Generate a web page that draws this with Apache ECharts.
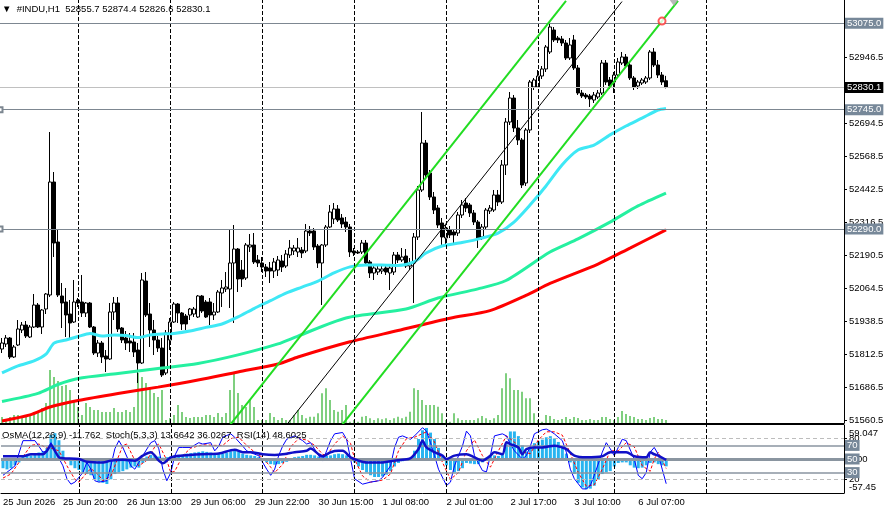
<!DOCTYPE html>
<html><head><meta charset="utf-8">
<script src="https://cdn.jsdelivr.net/npm/echarts@6/dist/echarts.min.js"></script>
<style>html,body{margin:0;padding:0;background:#fff}#c{width:888px;height:512px}</style>
</head><body><div id="c"></div><script>
// ---------- DATA ----------
const sessions = [['25 Jun',4,22],['26 Jun',0,22],['29 Jun',0,22],['30 Jun',0,22],['1 Jul',0,22],['2 Jul',0,22],['3 Jul',0,18],['6 Jul',0,13]];
const futureBars = 44;
const firstLabel = '25 Jun 2026';
const labelIdx = [16,32,48,64,80,96,112,128,144,160];
const daySeparators = [19,42,65,88,111,134,153,176];
const yTicks = [51560.5,51686.5,51812.5,51938.5,52064.5,52190.5,52316.5,52442.5,52568.5,52694.5,52820.5,52946.5,53072.5];
const priceLevels = [53075.0, 52745.0, 52290.0];
const bidPrice = 52830.1;
const rsiLevels = [80,70,50,30,20];
const rsiTickLabels = [80,20];
const osmaLabelVals = [45.3, 0, -47.2];
const osmaLabelText = ['59.047','0.00','-57.45'];
const header = '\u25BC  #INDU,H1  52855.7 52874.4 52826.6 52830.1';
const indHeader = 'OsMA(12,26,9) -11.762  Stoch(5,3,3) 13.6642 36.0267  RSI(14) 48.6025';

const opens = [51831.5,51850.6,51873.5,51801.0,51846.8,51904.1,51923.1,51877.3,51915.5,51999.5,
 51915.5,51984.2,52037.7,52469.1,52240.0,52033.9,52011.0,51965.1,51934.6,52018.6,
 52011.0,51969.0,52007.1,51915.5,51816.2,51854.4,51804.8,51793.3,51972.8,52007.1,
 51911.7,51873.5,51862.1,51858.2,51827.7,51778.1,52091.1,51965.1,51904.1,51865.9,
 51835.3,51739.9,51865.9,51934.6,52003.3,51969.0,51957.5,51961.3,51965.1,51953.7,
 52033.9,52011.0,52011.0,51961.3,51972.8,52045.3,52060.6,52060.6,52159.9,52213.3,
 52133.1,52102.6,52221.0,52228.6,52171.3,52159.9,52144.6,52140.8,52129.3,52133.1,
 52167.5,52148.4,52190.4,52205.7,52201.9,52209.5,52205.7,52282.0,52282.0,52224.8,
 52159.9,52228.6,52297.3,52327.9,52366.0,52331.7,52316.4,52297.3,52205.7,52201.9,
 52201.9,52236.2,52163.7,52121.7,52125.5,52129.3,52140.8,52121.7,52125.5,52190.4,
 52171.3,52186.6,52148.4,52159.9,52259.1,52438.6,52618.0,52503.5,52411.9,52369.9,
 52312.6,52255.3,52285.9,52278.2,52274.4,52343.1,52388.9,52381.3,52350.8,52316.4,
 52259.1,52297.3,52358.4,52362.2,52419.5,52392.8,52534.0,52698.2,52789.8,52675.3,
 52629.5,52465.3,52667.7,52831.8,52831.8,52873.8,52900.6,52965.5,53049.5,53018.9,
 53015.1,52999.8,52942.6,53011.3,52904.4,52808.9,52801.3,52797.5,52782.2,52793.7,
 52808.9,52923.5,52858.6,52850.9,52877.6,52923.5,52946.4,52915.8,52866.2,52835.7,
 52847.1,52850.9,52866.2,52965.5,52915.8,52877.6,52855.7];
const highs = [51873.5,51885.0,51877.3,51846.8,51942.2,51934.6,51938.4,51923.1,52041.5,52007.1,
 51984.2,52045.3,52660.0,52507.3,52285.9,52083.5,52064.4,52018.6,52095.0,52026.2,
 52114.1,52011.0,52011.0,51919.3,51865.9,51862.1,51827.7,52007.1,52030.0,52030.0,
 51915.5,51900.2,51892.6,51892.6,51854.4,52121.7,52125.5,52007.1,51942.2,51881.2,
 51873.5,51904.1,51949.9,52011.0,52007.1,51972.8,51965.1,51988.1,51991.9,52037.7,
 52037.7,52018.6,52026.2,52007.1,52056.8,52095.0,52125.5,52285.9,52304.9,52217.1,
 52171.3,52236.2,52270.6,52274.4,52190.4,52182.8,52156.0,52163.7,52179.0,52186.6,
 52190.4,52209.5,52247.7,52228.6,52255.3,52221.0,52308.8,52301.1,52293.5,52232.4,
 52232.4,52304.9,52381.3,52388.9,52381.3,52346.9,52335.5,52308.8,52217.1,52209.5,
 52247.7,52247.7,52171.3,52152.2,52148.4,52148.4,52152.2,52152.2,52201.9,52201.9,
 52217.1,52213.3,52179.0,52274.4,52453.9,52736.4,52629.5,52514.9,52430.9,52381.3,
 52331.7,52304.9,52301.1,52289.7,52354.6,52400.4,52408.0,52388.9,52362.2,52324.0,
 52308.8,52369.9,52381.3,52438.6,52438.6,52553.1,52713.5,52812.7,52801.3,52705.8,
 52637.1,52675.3,52858.6,52866.2,52896.7,52912.0,52992.2,53080.0,53060.9,53026.6,
 53026.6,53011.3,53018.9,53030.4,52915.8,52820.4,52808.9,52805.1,52812.7,52820.4,
 52934.9,52934.9,52870.0,52889.1,52942.6,52965.5,52957.8,52923.5,52873.8,52858.6,
 52866.2,52873.8,52973.1,52980.7,52934.9,52889.1,52874.4];
const lows = [51816.2,51839.2,51793.3,51797.2,51843.0,51892.6,51873.5,51873.5,51911.7,51911.7,
 51888.8,51965.1,52030.0,52182.8,52030.0,51911.7,51877.3,51873.5,51930.8,51991.9,
 51953.7,51953.7,51911.7,51808.6,51801.0,51778.1,51743.7,51789.5,51942.2,51896.4,
 51854.4,51827.7,51820.1,51801.0,51701.7,51774.2,51953.7,51839.2,51808.6,51820.1,
 51724.6,51732.2,51827.7,51930.8,51930.8,51904.1,51904.1,51942.2,51953.7,51949.9,
 51969.0,51949.9,51923.1,51942.2,51969.0,51991.9,52049.1,51988.1,51930.8,52049.1,
 52068.2,52095.0,52201.9,52156.0,52144.6,52125.5,52106.4,52083.5,52102.6,52110.2,
 52125.5,52140.8,52179.0,52190.4,52182.8,52179.0,52198.1,52263.0,52209.5,52140.8,
 51999.5,52221.0,52293.5,52308.8,52316.4,52293.5,52278.2,52182.8,52186.6,52194.2,
 52194.2,52152.2,52102.6,52095.0,52114.1,52117.9,52114.1,52056.8,52114.1,52159.9,
 52163.7,52140.8,52133.1,52007.1,52247.7,52430.9,52484.4,52400.4,52346.9,52293.5,
 52228.6,52228.6,52255.3,52232.4,52263.0,52331.7,52354.6,52335.5,52304.9,52217.1,
 52247.7,52289.7,52346.9,52354.6,52377.5,52385.1,52495.8,52686.7,52660.0,52610.4,
 52446.2,52453.9,52656.2,52820.4,52828.0,52862.4,52889.1,52957.8,53003.6,52999.8,
 52988.4,52934.9,52934.9,52896.7,52801.3,52789.8,52786.0,52755.5,52770.7,52786.0,
 52801.3,52839.5,52824.2,52808.9,52870.0,52915.8,52904.4,52858.6,52820.4,52824.2,
 52839.5,52843.3,52858.6,52908.2,52866.2,52839.5,52826.6];
const closes = [51854.4,51873.5,51801.0,51839.2,51907.9,51923.1,51881.2,51915.5,51999.5,51915.5,
 51980.4,52041.5,52469.1,52236.2,52037.7,52007.1,51961.3,51930.8,52011.0,52007.1,
 51969.0,52007.1,51915.5,51816.2,51854.4,51801.0,51793.3,51972.8,52007.1,51907.9,
 51865.9,51854.4,51854.4,51820.1,51778.1,52095.0,51961.3,51904.1,51865.9,51835.3,
 51732.2,51892.6,51934.6,52003.3,51969.0,51927.0,51927.0,51984.2,51984.2,52033.9,
 51976.6,51953.7,51961.3,51972.8,52049.1,52064.4,52068.2,52159.9,52213.3,52098.8,
 52098.8,52228.6,52228.6,52163.7,52159.9,52144.6,52129.3,52129.3,52163.7,52171.3,
 52144.6,52194.2,52217.1,52217.1,52217.1,52198.1,52282.0,52274.4,52221.0,52159.9,
 52228.6,52297.3,52354.6,52366.0,52324.0,52308.8,52297.3,52201.9,52198.1,52198.1,
 52236.2,52159.9,52121.7,52140.8,52137.0,52137.0,52125.5,52140.8,52190.4,52171.3,
 52182.8,52148.4,52159.9,52259.1,52438.6,52618.0,52495.8,52411.9,52362.2,52304.9,
 52259.1,52293.5,52266.8,52266.8,52343.1,52381.3,52369.9,52350.8,52316.4,52255.3,
 52297.3,52362.2,52369.9,52419.5,52392.8,52534.0,52698.2,52789.8,52675.3,52629.5,
 52457.7,52667.7,52850.9,52858.6,52873.8,52900.6,52984.6,53060.9,53011.3,53011.3,
 52999.8,52942.6,52992.2,52904.4,52808.9,52797.5,52793.7,52786.0,52801.3,52808.9,
 52923.5,52850.9,52835.7,52877.6,52927.3,52946.4,52912.0,52866.2,52831.8,52850.9,
 52858.6,52866.2,52965.5,52915.8,52877.6,52850.9,52830.1];
const volumes = [60,40,60,80,80,50,60,80,100,120,
 150,200,530,460,420,370,380,330,230,160,
 80,200,160,130,130,110,110,110,150,110,
 110,130,110,160,500,460,400,350,300,260,
 330,30,50,80,180,110,60,50,60,60,
 60,80,80,60,100,60,100,330,490,300,
 180,160,230,160,30,30,30,100,60,30,
 50,30,30,80,130,
 80,47,63,63,97,297,347,230,130,113,
 130,180,13,30,13,63,70,47,30,47,
 37,47,30,47,63,47,63,113,347,330,
 230,180,180,180,163,97,30,13,97,47,
 30,30,30,30,47,70,47,30,47,80,
 347,497,447,330,330,313,247,247,97,30,13,80,
 70,40,30,40,60,40,60,50,30,30,
 40,30,30,60,60,40,30,60,120,90,
 70,60,40,40,30,50,60,40,40,30];
// moving averages read at sample bars [barIndex, price]
const maFast = [[0,51740],[4,51767],[8,51786],[11,51812],[13,51854],[16,51866],[19,51879],[22,51891],[25,51881],[28,51885],[31,51883],[34,51875],[37,51885],[40,51889],[43,51891],[47,51900],[51,51914],[55,51927],[59,51954],[63,51986],[67,52015],[71,52045],[75,52068],[79,52091],[83,52122],[87,52145],[91,52152],[95,52152],[99,52150],[103,52164],[106,52198],[110,52225],[115,52238],[120,52255],[124,52274],[128,52316],[132,52381],[136,52454],[140,52534],[144,52591],[148,52610],[152,52649],[156,52683],[160,52713],[164,52744],[166,52750]];
const maMid = [[0,51631],[9,51662],[14,51696],[19,51719],[29,51738],[39,51757],[49,51776],[59,51809],[69,51851],[74,51881],[86,51950],[101,51984],[109,52026],[119,52061],[126,52093],[137,52202],[144,52252],[152,52316],[159,52378],[166,52427]];
const maSlow = [[0,51557],[7,51580],[12,51610],[19,51635],[29,51662],[39,51686],[49,51713],[59,51744],[69,51774],[74,51801],[87,51859],[99,51902],[112,51949],[122,51978],[131,52036],[137,52082],[149,52156],[157,52217],[166,52286]];
// channel lines (two end points each)
const chanUpper = [[57,51541.4],[141,53160.6]];
const chanMiddle = [[71,51539.0],[155,53158.0]];
const chanLower = [[85,51541.4],[169,53160.6]];
const anchorCircle = [[165,53083.5]];
const shiftMark = [[168,53154.5]];
// indicators
const osma = [-15,-17,-15,-10,-5,5,6,7,10,12,
 14,20,42,45,33,15,-2,-10,-15,-18,
 -22,-25,-27,-35,-38,-40,-42,-34,-25,-22,
 -20,-17,-14,-12,-14,-6,5,8,6,5,
 3,4,5,7,8,8,10,11,12,13,
 14,13,12,11,10,10,12,14,16,14,
 10,8,7,6,4,-2,-5,-8,-9,-8,
 -6,-4,2,4,5,6,8,8,7,5,
 5,6,7,9,10,9,7,3,-5,-12,
 -18,-22,-27,-30,-30,-29,-26,-20,-12,-6,
 -3,2,3,15,35,50,54,46,35,20,
 5,-10,-18,-22,-20,-15,-6,-7,-8,-8,
 -5,3,6,7,6,10,26,48,48,40,
 24,14,20,28,31,34,38,40,36,30,
 22,10,-5,-25,-40,-48,-51,-50,-45,-35,
 -25,-22,-20,-12,-6,-5,-5,-10,-14,-15,
 -14,-10,-6,-5,-8,-10,-11.762];
const stochMain = [[0,26],[2,35],[3,40],[5,77],[8,77],[10,60],[11,62],[12,74],[13,62],[15,40],[16,21],[17,13],[18,16],[20,30],[21,45],[22,35],[23,18],[24,16],[26,18],[27,40],[28,65],[29,77],[30,67],[32,40],[33,35],[34,45],[35,55],[37,74],[38,77],[39,65],[40,35],[41,18],[42,30],[43,55],[44,67],[45,67],[47,67],[49,74],[50,72],[52,74],[53,62],[54,69],[55,82],[57,87],[58,82],[60,69],[61,62],[63,57],[64,55],[66,35],[67,26],[68,35],[69,55],[70,69],[71,79],[73,84],[75,77],[76,72],[77,74],[79,55],[80,47],[81,62],[82,77],[83,87],[85,89],[86,79],[87,50],[88,21],[90,13],[92,16],[94,18],[95,23],[97,40],[98,67],[99,82],[100,84],[102,79],[103,84],[105,96],[106,91],[107,74],[108,55],[109,35],[111,11],[112,16],[113,40],[115,69],[116,91],[117,84],[118,55],[120,33],[121,31],[122,55],[123,84],[125,87],[126,84],[127,72],[128,62],[130,50],[131,55],[132,69],[133,87],[135,93],[136,94],[137,91],[138,87],[140,77],[141,60],[142,35],[143,21],[145,6],[146,6],[147,11],[148,26],[150,60],[151,74],[152,65],[153,55],[154,67],[155,79],[156,77],[158,50],[159,26],[160,21],[161,30],[162,60],[163,67],[164,57],[165,35],[166,13.6642]];
const stochSignal = [[0,22],[2,28],[4,45],[7,70],[9,72],[11,66],[12,66],[14,62],[16,40],[18,20],[19,16],[21,30],[22,36],[24,26],[25,18],[27,25],[29,55],[30,70],[31,72],[33,48],[34,40],[36,48],[38,68],[39,72],[41,48],[42,30],[43,32],[45,55],[47,66],[50,71],[53,70],[55,70],[57,80],[59,82],[61,70],[63,60],[65,52],[67,38],[68,30],[70,42],[72,68],[74,80],[76,78],[78,70],[80,57],[81,55],[83,72],[85,84],[87,73],[88,50],[90,25],[92,16],[95,19],[97,28],[99,62],[101,80],[103,82],[106,90],[108,75],[110,45],[112,20],[114,30],[116,62],[118,78],[120,55],[122,38],[124,62],[126,84],[128,75],[130,60],[132,58],[134,78],[136,90],[138,90],[140,85],[142,58],[144,30],[146,10],[148,12],[150,35],[152,62],[154,62],[156,74],[158,68],[160,40],[162,32],[163,50],[164,60],[166,36.0267]];
const rsi = [[0,54],[5,54],[7,57],[10,57],[11,62],[12,70.5],[13,62],[14,52.4],[15,51],[19,50],[21,46],[25,45],[27,47.6],[30,49],[33,47.6],[35,55],[37,60],[38,55],[39,47.6],[40,43.7],[42,52.4],[45,55],[50,57],[54,58],[58,63.7],[60,60],[62,60],[65,57],[68,56],[70,57],[73,60],[76,62],[77,65.6],[79,57],[80,54],[82,60],[84,62],[85,62],[87,52.4],[89,47.6],[91,45],[95,45],[98,47.6],[100,49],[102,51],[104,64.6],[105,76.8],[106,67],[108,60],[110,55],[111,50],[113,55],[116,57],[118,52.4],[120,47.6],[122,55],[123,60],[125,57],[126,74.6],[127,72],[129,67],[130,57],[131,64.6],[133,67],[135,67],[138,69.5],[140,67],[141,64.6],[143,55],[146,52.4],[150,54],[152,60],[156,60],[158,54],[161,52.4],[162,60],[163,57],[164,55],[166,48.6025]];

// ---------- BUILD ----------
const categories = [];
sessions.forEach(([d,a,b]) => { for (let h=a; h<=b; h++) categories.push(d+' '+String(h).padStart(2,'0')+':00'); });
for (let k=1;k<=futureBars;k++) categories.push('+'+k);

const FONT = 'Liberation Sans';
const FS = 9.5;
const LEVEL_BG = '#778899';
const candleData = opens.map((o,i)=>[o, closes[i], lows[i], highs[i]]);
const sepLines = daySeparators.map(v=>({xAxis:v}));
const dashStyle = {color:'#000', width:1, type:[4,2]};
function boxLabel(text,bg){ return {show:true, position:'end', formatter:text, backgroundColor:bg, color:'#fff', padding:[1,2,0,2], distance:1, fontSize:FS, fontFamily:FONT}; }

const levelItems = priceLevels.map((p,k)=>({
  yAxis:p, symbol: k===0 ? 'none' : 'emptyRect', symbolSize:5,
  lineStyle:{color:'#7d8791', width:1, type:'solid'},
  label: boxLabel(p.toFixed(1), LEVEL_BG)
}));
levelItems.push({yAxis:bidPrice, symbol:'none', lineStyle:{color:'#c0c0c0', width:1, type:'solid'}, label: boxLabel(bidPrice.toFixed(1), '#000')});

const rsiItems = rsiLevels.map(v=>{
  if (v===80 || v===20) return {yAxis:v, lineStyle:{color:'#bdbdbd', width:1, type:[4,3]}, label:{show:false}};
  return {yAxis:v, lineStyle:{color:'#8a95a0', width: v===50 ? 3 : 1.5, type:'solid'}, label: boxLabel(String(v), LEVEL_BG)};
});

function lineSeries(name, data, color, width, extra){
  return Object.assign({type:'line', name, data, xAxisIndex:0, yAxisIndex:0, symbol:'none', smooth:0.25,
    lineStyle:{color, width}, itemStyle:{color}, silent:true, z:4}, extra||{});
}

const chart = echarts.init(document.getElementById('c'));
chart.setOption({
  animation:false,
  backgroundColor:'#fff',
  textStyle:{fontFamily:FONT},
  title:[
    {text:header, left:2, top:4, padding:0, textStyle:{fontSize:FS, fontWeight:'normal', color:'#000', fontFamily:FONT}},
    {text:indHeader, left:2, top:430, padding:0, textStyle:{fontSize:FS, fontWeight:'normal', color:'#000', fontFamily:FONT}}
  ],
  grid:[{left:0, top:0, width:844, height:423}, {left:0, top:425, width:844, height:68}],
  xAxis:[
    {type:'category', gridIndex:0, data:categories, boundaryGap:true,
     axisLine:{show:true, onZero:false, lineStyle:{color:'#000'}}, axisTick:{show:false}, axisLabel:{show:false}, splitLine:{show:false}},
    {type:'category', gridIndex:1, data:categories, boundaryGap:true,
     axisLine:{show:true, onZero:false, lineStyle:{color:'#000'}}, axisTick:{show:false}, splitLine:{show:false},
     axisLabel:{show:true, interval:(idx)=> idx===0 || labelIdx.indexOf(idx+1)>=0,
       formatter:(v,idx)=> idx===0 ? firstLabel : categories[idx+1],
       align:'left', margin:4, fontSize:FS, color:'#000', fontFamily:FONT}}
  ],
  yAxis:[
    {type:'value', gridIndex:0, position:'right', min:51549, max:53164,
     axisLine:{show:true, lineStyle:{color:'#000'}},
     axisTick:{show:true, length:3, customValues:yTicks, lineStyle:{color:'#000'}},
     axisLabel:{show:true, customValues:yTicks, formatter:v=>v.toFixed(1), margin:5, fontSize:FS, color:'#000', fontFamily:FONT},
     splitLine:{show:false}},
    {type:'value', gridIndex:0, min:0, max:4230, show:false, splitLine:{show:false}},
    {type:'value', gridIndex:1, position:'right', min:0, max:100,
     axisLine:{show:true, lineStyle:{color:'#000'}},
     axisTick:{show:true, length:3, customValues:rsiTickLabels, lineStyle:{color:'#000'}},
     axisLabel:{show:true, customValues:rsiTickLabels, margin:5, fontSize:FS, color:'#000', fontFamily:FONT},
     splitLine:{show:false}},
    {type:'value', gridIndex:1, position:'right', min:-57.45, max:59.047,
     axisLine:{show:false}, axisTick:{show:false}, splitLine:{show:false},
     axisLabel:{show:true, customValues:osmaLabelVals, margin:5, fontSize:FS, color:'#000', fontFamily:FONT,
       formatter:v=>{let b=0; osmaLabelVals.forEach((x,k)=>{ if(Math.abs(x-v)<Math.abs(osmaLabelVals[b]-v)) b=k;}); return osmaLabelText[b];}}}
  ],
  graphic:[
    {type:'line', shape:{x1:0, y1:424.5, x2:844, y2:424.5}, style:{stroke:'#000', lineWidth:1}, silent:true}
  ],
  series:[
    {type:'bar', name:'Volumes', xAxisIndex:0, yAxisIndex:1, data:volumes, barWidth:1, itemStyle:{color:'#00a000'}, z:1, silent:true,
     markLine:{silent:true, symbol:'none', label:{show:false}, lineStyle:dashStyle, data:sepLines, animation:false}},
    {type:'candlestick', name:'#INDU,H1', xAxisIndex:0, yAxisIndex:0, data:candleData, barWidth:3, silent:true, z:2,
     itemStyle:{color:'#ffffff', color0:'#000000', borderColor:'#000000', borderColor0:'#000000', borderWidth:1},
     markLine:{silent:true, symbol:'none', animation:false, data:levelItems}},
    lineSeries('MA slow', maSlow, '#ff0000', 3),
    lineSeries('MA mid', maMid, '#25f0a0', 3),
    lineSeries('MA fast', maFast, '#3ee8f5', 3),
    lineSeries('Channel upper', chanUpper, '#22dd22', 2, {smooth:false, z:5}),
    lineSeries('Channel middle', chanMiddle, '#000000', 1, {smooth:false, z:5}),
    lineSeries('Channel lower', chanLower, '#22dd22', 2, {smooth:false, z:5}),
    {type:'scatter', name:'anchor', xAxisIndex:0, yAxisIndex:0, data:anchorCircle, symbol:'emptyCircle', symbolSize:7,
     itemStyle:{color:'#ff3030', borderColor:'#ff3030', borderWidth:1}, silent:true, z:6},
    {type:'scatter', name:'shift', xAxisIndex:0, yAxisIndex:0, data:shiftMark, symbol:'triangle', symbolRotate:180, symbolSize:[10,7],
     itemStyle:{color:'#a8a8a8'}, silent:true, z:6},
    {type:'bar', name:'OsMA', xAxisIndex:1, yAxisIndex:3, data:osma, barWidth:3, itemStyle:{color:'#28b4f0'}, silent:true, z:2,
     markLine:{silent:true, symbol:'none', label:{show:false}, lineStyle:dashStyle, data:sepLines, animation:false}},
    {type:'line', name:'Stoch signal', xAxisIndex:1, yAxisIndex:2, data:stochSignal, symbol:'none', silent:true, z:3,
     lineStyle:{color:'#ff0000', width:1, type:[3,2]}},
    {type:'line', name:'Stoch main', xAxisIndex:1, yAxisIndex:2, data:stochMain, symbol:'none', silent:true, z:4,
     lineStyle:{color:'#0000ff', width:1}},
    {type:'line', name:'RSI', xAxisIndex:1, yAxisIndex:2, data:rsi, symbol:'none', smooth:0.3, silent:true, z:5,
     lineStyle:{color:'#1010c8', width:2.5},
     markLine:{silent:true, symbol:'none', animation:false, data:rsiItems}}
  ]
});
</script></body></html>
